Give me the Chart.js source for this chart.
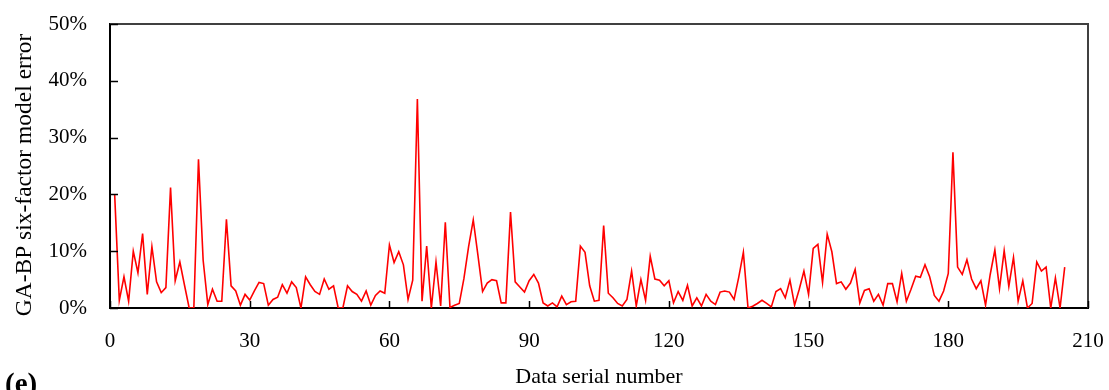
<!DOCTYPE html>
<html>
<head>
<meta charset="utf-8">
<script src="https://cdn.jsdelivr.net/npm/chart.js@4/dist/chart.umd.min.js"></script>
<style>
  html, body { margin: 0; padding: 0; background: #fff; }
  canvas { display: block; }
</style>
</head>
<body>
<canvas id="errChart" width="1109" height="390"></canvas>
<script>
// model error in % for data serial numbers 1..205
const errors = [
  20.0, 1.35, 5.5, 1.2, 10.0, 6.2, 13.1, 2.4, 10.8, 4.6,
  2.7, 3.6, 21.2, 4.8, 8.1, 4.0, 0, 0, 26.2, 8.4,
  0.6, 3.3, 1.2, 1.2, 15.6, 3.9, 3.0, 0.5, 2.4, 1.4,
  3.0, 4.5, 4.3, 0.5, 1.5, 1.9, 4.1, 2.6, 4.6, 3.6,
  0, 5.5, 4.1, 2.9, 2.4, 5.1, 3.3, 3.9, 0, 0,
  3.9, 2.9, 2.4, 1.2, 3.0, 0.5, 2.2, 3.0, 2.6, 11.1,
  8.0, 9.9, 7.6, 1.5, 4.9, 36.8, 1.2, 10.9, 0, 8.1,
  0.35, 15.1, 0.1, 0.5, 0.8, 5.2, 10.8, 15.5, 9.3, 2.9,
  4.4, 5.0, 4.8, 0.9, 0.9, 16.9, 4.6, 3.7, 2.8, 4.8,
  5.9, 4.4, 0.9, 0.35, 0.9, 0.2, 2.1, 0.6, 1.1, 1.2,
  10.9, 9.8, 3.9, 1.2, 1.35, 14.5, 2.6, 1.8, 0.8, 0.35,
  1.5, 6.5, 0.35, 5.0, 1.35, 9.1, 5.1, 4.9, 3.9, 4.8,
  0.9, 2.9, 1.35, 4.0, 0.35, 1.8, 0.35, 2.4, 1.2, 0.6,
  2.8, 3.0, 2.8, 1.5, 5.4, 9.8, 0, 0.3, 0.8, 1.35,
  0.8, 0.2, 2.9, 3.4, 1.8, 4.9, 0.5, 3.3, 6.5, 2.4,
  10.5, 11.2, 4.5, 13.0, 9.9, 4.3, 4.6, 3.3, 4.4, 6.8,
  0.9, 3.1, 3.4, 1.2, 2.4, 0.5, 4.3, 4.3, 1.1, 6.1,
  1.2, 3.3, 5.6, 5.4, 7.6, 5.5, 2.2, 1.2, 3.0, 6.1,
  27.4, 7.2, 5.9, 8.5, 5.1, 3.4, 4.8, 0.5, 5.9, 10.2,
  3.4, 10.1, 3.8, 8.9, 1.2, 4.8, 0, 0.8, 8.1, 6.5,
  7.2, 0, 5.3, 0, 7.2
];
const xTicks = [0, 30, 60, 90, 120, 150, 180, 210];
const yTicks = [0, 10, 20, 30, 40, 50];

const serif = "'Liberation Serif', 'Times New Roman', serif";

const points = errors.map((v, i) => ({ x: i + 1, y: v }));

// keep the plot box where the layout padding puts it
function noScalePadding(s) {
  s.paddingTop = 0;
  s.paddingBottom = 0;
  s.paddingLeft = 0;
  s.paddingRight = 0;
}

// frame, inner ticks, rotated y title and panel tag
const decorations = {
  id: 'decorations',
  afterDraw(chart) {
    const { ctx, chartArea: a, scales } = chart;
    ctx.save();
    ctx.strokeStyle = '#404040';
    ctx.lineWidth = 2;
    ctx.beginPath();
    ctx.moveTo(a.left, a.top);
    ctx.lineTo(a.right, a.top);
    ctx.lineTo(a.right, a.bottom);
    ctx.stroke();

    ctx.strokeStyle = '#000';
    ctx.lineWidth = 1.5;
    yTicks.forEach(t => {
      const y = Math.round(scales.y.getPixelForValue(t)) + 0.5;
      ctx.beginPath();
      ctx.moveTo(a.left, y);
      ctx.lineTo(a.left + 8, y);
      ctx.stroke();
    });
    xTicks.forEach(t => {
      const x = Math.round(scales.x.getPixelForValue(t)) + 0.5;
      ctx.beginPath();
      ctx.moveTo(x, a.bottom);
      ctx.lineTo(x, a.bottom - 7);
      ctx.stroke();
    });

    ctx.fillStyle = '#000';
    ctx.font = "23.5px " + serif;
    ctx.textAlign = 'center';
    ctx.textBaseline = 'middle';
    ctx.translate(25, 175);
    ctx.rotate(-Math.PI / 2);
    ctx.fillText('GA-BP six-factor model error', 0, 0);
    ctx.restore();

    ctx.save();
    ctx.fillStyle = '#000';
    ctx.font = "bold 29px " + serif;
    ctx.textAlign = 'left';
    ctx.textBaseline = 'alphabetic';
    ctx.fillText('(e)', 5, 393);
    ctx.restore();
  }
};

new Chart(document.getElementById('errChart'), {
  type: 'line',
  data: {
    datasets: [{
      data: points,
      borderColor: '#ff0000',
      borderWidth: 1.6,
      pointRadius: 0,
      tension: 0,
      fill: false
    }]
  },
  options: {
    responsive: false,
    devicePixelRatio: 1,
    animation: false,
    layout: { padding: { left: 0, right: 21, top: 24, bottom: 0 } },
    plugins: {
      legend: { display: false },
      tooltip: { enabled: false }
    },
    scales: {
      x: {
        type: 'linear',
        min: 0,
        max: 210,
        afterBuildTicks: s => { s.ticks = xTicks.map(v => ({ value: v })); },
        grid: { display: false, drawTicks: false },
        border: { color: '#000', width: 2 },
        ticks: { color: '#000', padding: 21, maxRotation: 0, font: { family: serif, size: 21 } },
        title: {
          display: true,
          text: 'Data serial number',
          color: '#000',
          padding: { top: 0, bottom: 0 },
          font: { family: serif, size: 22 }
        },
        afterFit: s => { s.height = 82; noScalePadding(s); }
      },
      y: {
        min: 0,
        max: 50,
        afterBuildTicks: s => { s.ticks = yTicks.map(v => ({ value: v })); },
        grid: { display: false, drawTicks: false },
        border: { color: '#000', width: 2 },
        ticks: {
          color: '#000',
          padding: 23,
          font: { family: serif, size: 21 },
          callback: v => v + '%'
        },
        afterFit: s => { s.width = 110; noScalePadding(s); }
      }
    }
  },
  plugins: [decorations]
});
</script>
</body>
</html>
